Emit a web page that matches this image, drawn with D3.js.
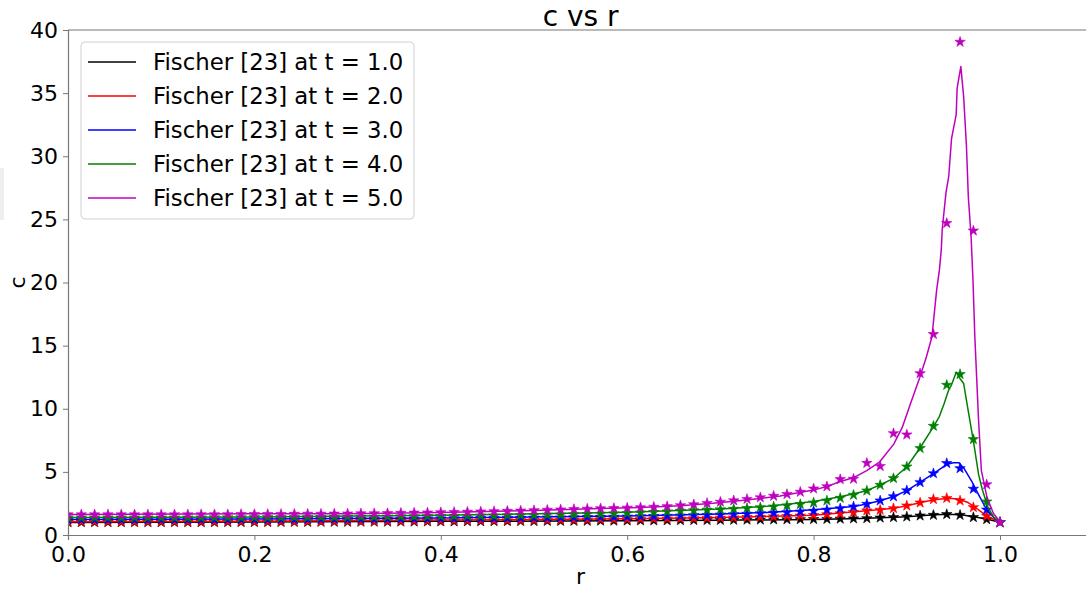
<!DOCTYPE html>
<html>
<head>
<meta charset="utf-8">
<script src="https://cdn.jsdelivr.net/npm/d3@7"></script>
<style>
  body { margin: 0; background: #fff; }
  svg { display: block; font-family: "DejaVu Sans", sans-serif; }
</style>
</head>
<body>
<svg id="chart"></svg>
<script>
// ---- data ----
const markerCount = 71; // stars at r = i/70
const markersT1 = [1.00,1.00,1.00,1.00,1.00,1.00,1.00,1.00,1.00,1.00,
  1.00,1.00,1.01,1.01,1.01,1.01,1.02,1.02,1.02,1.03,
  1.03,1.03,1.04,1.04,1.04,1.05,1.05,1.06,1.06,1.06,
  1.07,1.07,1.08,1.08,1.09,1.09,1.10,1.10,1.11,1.11,
  1.12,1.12,1.13,1.14,1.14,1.15,1.16,1.17,1.17,1.18,
  1.19,1.20,1.21,1.22,1.23,1.24,1.25,1.26,1.28,1.30,
  1.32,1.37,1.40,1.45,1.53,1.58,1.64,1.58,1.40,1.24,1.00];
const markersT2 = [1.05,1.05,1.05,1.05,1.05,1.05,1.05,1.05,1.05,1.05,
  1.05,1.05,1.06,1.06,1.06,1.07,1.07,1.07,1.08,1.08,
  1.09,1.09,1.10,1.10,1.11,1.11,1.12,1.12,1.13,1.14,
  1.14,1.15,1.16,1.16,1.17,1.18,1.19,1.20,1.21,1.22,
  1.23,1.24,1.25,1.26,1.28,1.29,1.30,1.32,1.34,1.36,
  1.38,1.40,1.43,1.46,1.49,1.53,1.57,1.63,1.70,1.80,
  1.93,1.98,2.11,2.32,2.56,2.83,2.92,2.72,2.19,1.50,1.00];
const markersT3 = [1.22,1.22,1.22,1.22,1.22,1.22,1.22,1.22,1.22,1.22,
  1.22,1.22,1.23,1.23,1.23,1.24,1.24,1.24,1.25,1.25,
  1.26,1.26,1.27,1.27,1.28,1.28,1.29,1.30,1.30,1.31,
  1.32,1.33,1.33,1.34,1.35,1.36,1.37,1.38,1.39,1.41,
  1.42,1.43,1.45,1.47,1.48,1.50,1.52,1.55,1.57,1.60,
  1.63,1.66,1.70,1.74,1.79,1.84,1.90,1.99,2.10,2.25,
  2.45,2.72,3.05,3.52,4.17,4.88,5.68,5.28,3.65,2.00,1.00];
const markersT4 = [1.38,1.38,1.38,1.38,1.38,1.38,1.38,1.38,1.38,1.38,
  1.38,1.39,1.39,1.39,1.40,1.40,1.40,1.41,1.41,1.42,
  1.42,1.43,1.44,1.44,1.45,1.46,1.47,1.48,1.49,1.50,
  1.51,1.52,1.53,1.54,1.56,1.57,1.59,1.60,1.62,1.64,
  1.66,1.69,1.72,1.76,1.80,1.85,1.90,1.94,1.98,2.02,
  2.06,2.12,2.18,2.24,2.33,2.43,2.56,2.72,2.93,3.17,
  3.51,3.96,4.49,5.41,6.87,8.63,11.88,12.73,7.58,2.64,1.00];
const markersT5 = [1.62,1.62,1.62,1.62,1.62,1.62,1.62,1.62,1.62,1.62,
  1.63,1.63,1.63,1.64,1.64,1.65,1.65,1.66,1.67,1.67,
  1.68,1.69,1.70,1.71,1.72,1.74,1.76,1.77,1.79,1.81,
  1.83,1.85,1.87,1.90,1.92,1.95,1.98,2.01,2.04,2.07,
  2.10,2.12,2.15,2.18,2.22,2.27,2.34,2.42,2.52,2.62,
  2.73,2.84,2.97,3.09,3.23,3.41,3.67,3.84,4.41,4.44,
  5.70,5.45,8.05,7.95,12.8,15.9,24.7,39.05,24.1,4.0,1.0];

// reference curves (Fischer [23]) as [r, c]
const lineT1 = [[0,1.0],[0.2,1.03],[0.4,1.08],[0.6,1.12],[0.7,1.17],[0.8,1.23],[0.85,1.30],[0.9,1.45],
  [0.93,1.60],[0.945,1.64],[0.96,1.58],[0.975,1.40],[0.99,1.18],[1.0,1.0]];
const lineT2 = [[0,1.05],[0.2,1.09],[0.4,1.18],[0.6,1.28],[0.7,1.38],[0.8,1.57],[0.857,1.93],[0.886,2.11],
  [0.9,2.32],[0.914,2.56],[0.929,2.8],[0.945,2.92],[0.955,2.85],[0.965,2.6],[0.975,2.1],[0.985,1.55],
  [0.993,1.25],[1.0,1.0]];
const lineT3 = [[0,1.22],[0.2,1.26],[0.4,1.34],[0.6,1.50],[0.7,1.66],[0.75,1.79],[0.8,2.0],[0.843,2.25],
  [0.857,2.45],[0.871,2.72],[0.886,3.05],[0.9,3.52],[0.914,4.17],[0.929,4.88],[0.943,5.6],[0.95,5.73],
  [0.956,5.73],[0.962,5.2],[0.97,4.2],[0.977,3.2],[0.985,2.1],[0.993,1.4],[1.0,1.0]];
const lineT4 = [[0,1.38],[0.2,1.42],[0.4,1.56],[0.6,1.80],[0.7,2.06],[0.75,2.28],[0.8,2.65],[0.83,3.05],
  [0.857,3.51],[0.871,3.96],[0.886,4.49],[0.9,5.41],[0.914,6.87],[0.929,8.63],[0.935,9.4],[0.94,10.4],
  [0.945,11.5],[0.948,11.9],[0.953,12.9],[0.957,12.4],[0.961,12.0],[0.966,9.8],[0.972,7.2],[0.977,4.8],
  [0.981,3.6],[0.987,2.2],[0.993,1.45],[1.0,1.0]];
const lineT5 = [[0,1.62],[0.2,1.68],[0.3,1.69],[0.4,1.79],[0.5,1.95],[0.571,2.10],[0.614,2.18],
  [0.657,2.32],[0.692,2.51],[0.728,2.77],[0.764,3.09],[0.8,3.56],[0.814,3.83],[0.828,4.22],
  [0.843,4.55],[0.857,5.1],[0.871,5.8],[0.886,7.2],[0.895,8.5],[0.903,10.2],[0.914,12.5],
  [0.921,14.1],[0.927,15.7],[0.932,19.4],[0.935,21.0],[0.937,22.6],[0.938,24.2],[0.942,27.1],
  [0.945,28.4],[0.948,31.4],[0.953,33.3],[0.954,35.4],[0.958,37.1],[0.961,34.7],[0.964,30.8],
  [0.966,26.8],[0.969,23.6],[0.971,20.2],[0.973,15.7],[0.977,9.1],[0.980,5.1],[0.986,3.0],
  [0.993,1.7],[1.0,1.05]];

const legendLabels = ["Fischer [23] at t = 1.0", "Fischer [23] at t = 2.0", "Fischer [23] at t = 3.0",
  "Fischer [23] at t = 4.0", "Fischer [23] at t = 5.0"];
const seriesColors = ["#000000", "#ff0000", "#0000ff", "#008000", "#bf00bf"];
const xTicks = [0, 0.2, 0.4, 0.6, 0.8, 1.0];
const yTicks = [0, 5, 10, 15, 20, 25, 30, 35, 40];

const allLines = [lineT1, lineT2, lineT3, lineT4, lineT5];
const allMarkers = [markersT1, markersT2, markersT3, markersT4, markersT5];

// ---- layout ----
const width = 1086, height = 589;
const margin = { left: 68, top: 30, bottom: 54 };
const plotRight = 68 + 932 * 1.1;

const svg = d3.select("#chart").attr("width", width).attr("height", height);

const x = d3.scaleLinear().domain([0, 1.1]).range([margin.left, plotRight]);
const y = d3.scaleLinear().domain([0, 40]).range([height - margin.bottom, margin.top]);

svg.append("rect").attr("x", 0).attr("y", 168).attr("width", 4).attr("height", 52)
    .attr("fill", "#eeeeee");

svg.append("defs").append("clipPath").attr("id", "clip")
  .append("rect")
    .attr("x", margin.left).attr("y", margin.top - 8)
    .attr("width", plotRight - margin.left).attr("height", y(0) - margin.top + 16);

// curves + stars
const plot = svg.append("g").attr("clip-path", "url(#clip)");
const line = d3.line().x(d => x(d[0])).y(d => y(d[1]));
const star = d3.symbol().type(d3.symbolStar).size(34);

allLines.forEach((pts, k) => {
  plot.append("path")
      .attr("d", line(pts))
      .attr("fill", "none")
      .attr("stroke", seriesColors[k])
      .attr("stroke-width", 1.5)
      .attr("stroke-linejoin", "round");

  plot.selectAll(".star" + k)
    .data(allMarkers[k])
    .enter().append("path")
      .attr("class", "star" + k)
      .attr("d", star)
      .attr("transform", (c, i) => `translate(${x(i / (markerCount - 1))},${y(c)})`)
      .attr("fill", seriesColors[k])
      .attr("stroke", seriesColors[k])
      .attr("stroke-width", 0.6);
});

// axes
const xAxis = svg.append("g")
    .attr("transform", `translate(0,${y(0)})`)
    .call(d3.axisBottom(x).tickValues(xTicks).tickFormat(d3.format(".1f")).tickSize(5).tickPadding(6));
const yAxis = svg.append("g")
    .attr("transform", `translate(${margin.left},0)`)
    .call(d3.axisLeft(y).tickValues(yTicks).tickFormat(d3.format("d")).tickSize(5).tickPadding(5));

[xAxis, yAxis].forEach(g => {
  g.select(".domain").attr("stroke", "#777").attr("stroke-width", 1.2);
  g.selectAll(".tick line").attr("stroke", "#777").attr("stroke-width", 1);
  g.selectAll(".tick text").attr("fill", "#000").style("font-size", "22px")
      .style("font-family", "DejaVu Sans");
});

// top spine
svg.append("line")
    .attr("x1", margin.left).attr("x2", plotRight)
    .attr("y1", margin.top).attr("y2", margin.top)
    .attr("stroke", "#777").attr("stroke-width", 1.2);

// titles
svg.append("text").attr("x", (margin.left + plotRight) / 2).attr("y", 26)
    .attr("text-anchor", "middle").style("font-size", "28px").text("c vs r");
svg.append("text").attr("x", (margin.left + plotRight) / 2).attr("y", 584)
    .attr("text-anchor", "middle").style("font-size", "22px").text("r");
svg.append("text").attr("transform", `translate(25,${(margin.top + y(0)) / 2}) rotate(-90)`)
    .attr("text-anchor", "middle").style("font-size", "22px").text("c");

// legend
const legend = svg.append("g");
legend.append("rect")
    .attr("x", 81).attr("y", 42).attr("width", 333).attr("height", 177).attr("rx", 4)
    .attr("fill", "#fff").attr("fill-opacity", 0.8)
    .attr("stroke", "#d0d0d0").attr("stroke-width", 1);

const entries = legend.selectAll(".entry")
  .data(legendLabels)
  .enter().append("g")
    .attr("class", "entry")
    .attr("transform", (d, i) => `translate(0,${62 + i * 34})`);

entries.append("line")
    .attr("x1", 88).attr("x2", 136)
    .attr("stroke", (d, i) => seriesColors[i]).attr("stroke-width", 1.5);
entries.append("text")
    .attr("x", 153).attr("y", 8)
    .style("font-size", "22.8px")
    .text(d => d);
</script>
</body>
</html>
